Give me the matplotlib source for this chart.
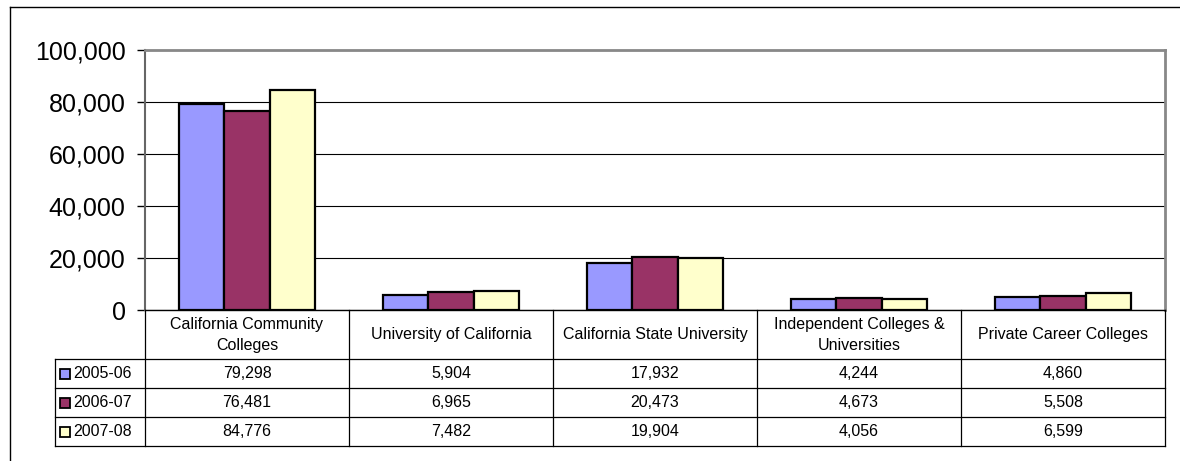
import matplotlib.pyplot as plt
import numpy as np
from matplotlib.patches import Rectangle

plt.rcParams["font.family"] = ["Liberation Sans", "DejaVu Sans"]

categories = ["California Community\nColleges", "University of California",
              "California State University", "Independent Colleges &\nUniversities",
              "Private Career Colleges"]
years = ["2005-06", "2006-07", "2007-08"]
v2005 = [79298, 5904, 17932, 4244, 4860]
v2006 = [76481, 6965, 20473, 4673, 5508]
v2007 = [84776, 7482, 19904, 4056, 6599]
series = [v2005, v2006, v2007]
colors = ["#9999FF", "#993366", "#FFFFCC"]

W, H = 1180, 461
fig = plt.figure(figsize=(W / 100, H / 100), dpi=100)

# plot area in pixels
left, right, top, bottom = 145, 1165, 50, 310
ax = fig.add_axes([left / W, 1 - bottom / H, (right - left) / W, (bottom - top) / H])

x = np.arange(len(categories))
w = 1 / 4.5  # Excel gap width 150%
for i, (vals, c) in enumerate(zip(series, colors)):
    ax.bar(x + (i - 1) * w, vals, width=w, color=c, edgecolor="black",
           linewidth=1.6, zorder=3)

ax.set_xlim(-0.5, len(categories) - 0.5)
ax.set_ylim(0, 100000)
ax.set_yticks(np.arange(0, 100001, 20000))
ax.set_yticklabels([f"{v:,}" for v in range(0, 100001, 20000)])
ax.set_xticks([])
ax.tick_params(axis="y", length=6, width=1, color="black", labelsize=18, pad=8)
ax.grid(axis="y", color="black", linewidth=0.8, zorder=0)
for s in ["top", "right"]:
    ax.spines[s].set_color("#888888")
    ax.spines[s].set_linewidth(2)
ax.spines["left"].set_color("#666666")
ax.spines["left"].set_linewidth(1.5)
ax.spines["bottom"].set_color("black")
ax.spines["bottom"].set_linewidth(1)

# overlay in pixel coords for the data table and outer frame
tax = fig.add_axes([0, 0, 1, 1])
tax.set_xlim(0, W)
tax.set_ylim(H, 0)
tax.axis("off")

# outer frame
tax.plot([9.5, W], [7.5, 7.5], color="black", lw=1)
tax.plot([9.5, 9.5], [7.5, H], color="black", lw=1)

col_w = (right - left) / len(categories)
edges = [left + i * col_w for i in range(len(categories) + 1)]
head_bot = 359
row_h = 29
rows_y = [head_bot + i * row_h for i in range(len(years) + 1)]
leg_left = 55
fs = 11.5
lc = "black"
lw = 0.9

# vertical lines
for e in edges:
    tax.plot([e, e], [bottom, rows_y[-1]], color=lc, lw=lw)
tax.plot([leg_left, leg_left], [head_bot, rows_y[-1]], color=lc, lw=lw)
# horizontal lines
for yy in rows_y:
    tax.plot([leg_left, edges[-1]], [yy, yy], color=lc, lw=lw)

# header text
for i, cat in enumerate(categories):
    tax.text((edges[i] + edges[i + 1]) / 2, (bottom + head_bot) / 2, cat,
             ha="center", va="center", fontsize=fs, linespacing=1.5)

# rows
for r, (yr, vals, c) in enumerate(zip(years, series, colors)):
    yc = (rows_y[r] + rows_y[r + 1]) / 2
    tax.add_patch(Rectangle((60, yc - 5), 10, 10, facecolor=c,
                            edgecolor="black", lw=1.3))
    tax.text(73, yc, yr, ha="left", va="center", fontsize=fs)
    for i, v in enumerate(vals):
        tax.text((edges[i] + edges[i + 1]) / 2, yc, f"{v:,}",
                 ha="center", va="center", fontsize=fs)

fig.savefig("out.png", dpi=100)
